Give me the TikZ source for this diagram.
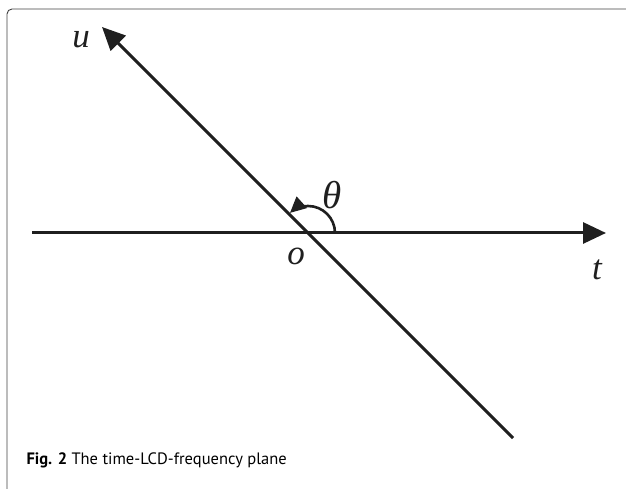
\documentclass[tikz,border=0pt]{standalone}
\usepackage{fontspec}
\setmainfont{Liberation Serif}
\newfontfamily\capfont{PT Sans}
\usetikzlibrary{arrows.meta}

\tikzset{
  axislabel/.style={font=\fontsize{35}{38}\selectfont\itshape, inner sep=0pt},
  frameline/.style={line width=0.9pt, draw=black!75, rounded corners=5pt}
}

\begin{document}
\begin{tikzpicture}[x=1pt, y=1pt, >={Triangle[length=23pt, width=21pt]}, line width=3pt, black!88]

\useasboundingbox (0,0) rectangle (626,489);

% Frame (top and left only)
\draw[frameline] (626,480) -- (7,480) -- (7,-5);

% Points
\coordinate (o) at (308,256);
\coordinate (tstart) at (32,256);
\coordinate (tend) at (606,256);
\coordinate (ustart) at (513,51);
\coordinate (uend) at (102,462);

% Axes
\draw[->] (tstart) -- (tend);
\draw[->] (ustart) -- (uend);

% Angle from t to u
\draw[->, line width=2.6pt, >={Triangle[length=16pt, width=15pt]}] ([xshift=27pt]o) arc[start angle=0, end angle=132, radius=27pt];

% Labels
\node[axislabel] (ulab) at (81,449) {u};
\node[axislabel, font=\fontsize{39}{42}\selectfont\itshape] (thetalab) at (332,294) {θ};
\node[axislabel] (olab) at (296,233) {o};
\node[axislabel] (tlab) at (597,219) {t};

% Caption
\node[anchor=base west, inner sep=0pt, font=\capfont\fontsize{16.5}{20}\selectfont, black] (caption) at (25,24)
  {\textbf{Fig. 2} The time-LCD-frequency plane};

\end{tikzpicture}
\end{document}
